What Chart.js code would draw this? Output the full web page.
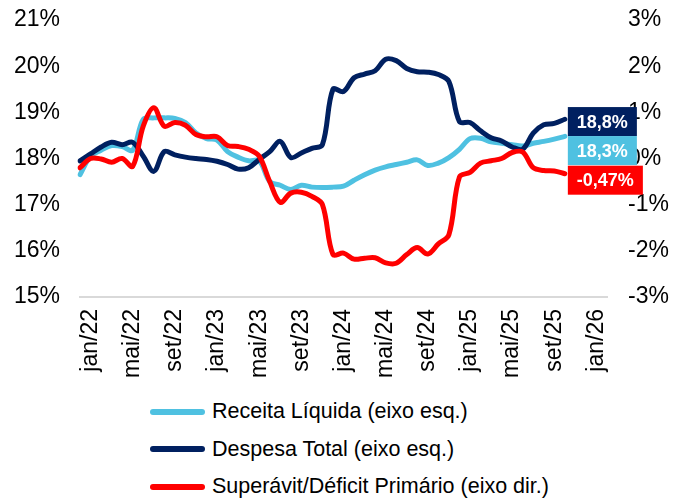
<!DOCTYPE html>
<html>
<head>
<meta charset="utf-8">
<script src="https://cdn.jsdelivr.net/npm/chart.js@4"></script>
<style>
    body { margin: 0; background: #fff; font-family: 'Liberation Sans', Arial, sans-serif; }
    #wrap { position: relative; width: 683px; height: 500px; }
    #box { position: absolute; left: 0; top: 0; width: 683px; height: 390px; }
    #legend { position: absolute; left: 150px; top: 393px; }
    .leg-row { display: flex; align-items: center; height: 37.5px; font-size: 21.5px; color: #000; }
    .leg-line { width: 55px; height: 6px; border-radius: 3px; margin-right: 7px; }
</style>
</head>
<body>
<div id="wrap">
    <div id="box"><canvas id="chart"></canvas></div>
    <div id="legend"></div>
</div>
<script>
// data

const months = [
    'dez/21',
    'jan/22', 'fev/22', 'mar/22', 'abr/22', 'mai/22', 'jun/22', 'jul/22', 'ago/22', 'set/22', 'out/22', 'nov/22', 'dez/22',
    'jan/23', 'fev/23', 'mar/23', 'abr/23', 'mai/23', 'jun/23', 'jul/23', 'ago/23', 'set/23', 'out/23', 'nov/23', 'dez/23',
    'jan/24', 'fev/24', 'mar/24', 'abr/24', 'mai/24', 'jun/24', 'jul/24', 'ago/24', 'set/24', 'out/24', 'nov/24', 'dez/24',
    'jan/25', 'fev/25', 'mar/25', 'abr/25', 'mai/25', 'jun/25', 'jul/25', 'ago/25', 'set/25', 'out/25', 'nov/25', 'dez/25',
    'jan/26', 'fev/26'
];
const shownMonths = ['jan', 'mai', 'set'];

const receita = [17.65, 18.05, 18.18, 18.28, 18.26, 18.18, 18.85, 18.88, 18.88, 18.87, 18.78, 18.55,
    18.43, 18.4, 18.15, 18.03, 17.95, 17.95, 17.5, 17.42, 17.33, 17.42, 17.38, 17.37,
    17.38, 17.4, 17.53, 17.65, 17.75, 17.82, 17.87, 17.92, 17.97, 17.85, 17.9, 18.02,
    18.2, 18.43, 18.44, 18.36, 18.33, 18.3, 18.27, 18.33, 18.37, 18.42, 18.48];
const despesa = [17.95, 18.1, 18.25, 18.35, 18.3, 18.35, 18.05, 17.72, 18.15, 18.08, 18.03, 18.0,
    17.98, 17.94, 17.87, 17.77, 17.8, 17.98, 18.15, 18.37, 18.02, 18.12, 18.22, 18.3,
    19.5, 19.45, 19.75, 19.83, 19.9, 20.15, 20.12, 19.95, 19.88, 19.87, 19.82, 19.67,
    18.8, 18.78, 18.6, 18.45, 18.38, 18.25, 18.2, 18.55, 18.73, 18.76, 18.85];
const superavit = [-0.2, 0.0, -0.01, -0.08, 0.0, -0.17, 0.7, 1.1, 0.7, 0.78, 0.72, 0.52,
    0.47, 0.47, 0.28, 0.26, 0.2, 0.05, -0.5, -0.95, -0.75, -0.73, -0.82, -1.0,
    -2.08, -2.05, -2.18, -2.16, -2.15, -2.26, -2.27, -2.08, -1.93, -2.07, -1.85, -1.65,
    -0.4, -0.3, -0.1, -0.05, 0.0, 0.13, 0.14, -0.2, -0.26, -0.27, -0.33];

const leftTicks = [15, 21];
const rightTicks = [-3, 3];

// last value labels (receita, despesa, superavit)
const endValues = [18.3, 18.8, -0.47];
const endDigits = [1, 1, 2];

const FONT = "'Liberation Sans', Arial, sans-serif";

const endLabels = {
    id: 'endLabels',
    afterDatasetsDraw(chart) {
        const c = chart.ctx;
        c.save();
        c.font = 'bold 18px ' + FONT;
        c.textAlign = 'center';
        c.textBaseline = 'middle';
        const h = 29;
        const boxes = chart.data.datasets.map((ds, i) => {
            const meta = chart.getDatasetMeta(i);
            const last = meta.data[meta.data.length - 1];
            const scale = chart.scales[ds.yAxisID];
            const text = endValues[i].toFixed(endDigits[i]).replace('.', ',') + '%';
            return { text, color: ds.borderColor, x: last.x + 3, y: scale.getPixelForValue(endValues[i]) };
        }).sort((a, b) => a.y - b.y);
        let bottom = -Infinity;
        boxes.forEach(b => {
            let top = b.y - h / 2;
            if (top < bottom) top = bottom;
            const w = c.measureText(b.text).width + 18;
            c.fillStyle = b.color;
            c.fillRect(b.x, top, w, h);
            c.fillStyle = '#fff';
            c.fillText(b.text, b.x + w / 2, top + h / 2 + 1);
            bottom = top + h;
        });
        c.restore();
    }
};

const ctx = document.getElementById('chart');

const chart = new Chart(ctx, {
    type: 'line',
    data: {
        labels: months,
        datasets: [{
            label: 'Receita Líquida (eixo esq.)',
            data: receita,
            borderColor: '#4FC1E1',
            yAxisID: 'y',
            order: 3
        }, {
            label: 'Despesa Total (eixo esq.)',
            data: despesa,
            borderColor: '#002060',
            yAxisID: 'y',
            order: 2
        }, {
            label: 'Superávit/Déficit Primário (eixo dir.)',
            data: superavit,
            borderColor: '#FF0000',
            yAxisID: 'y1',
            order: 1
        }]
    },
    options: {
        responsive: true,
        maintainAspectRatio: false,
        animation: false,
        layout: { padding: { top: 20, bottom: 0, left: 0, right: 0 } },
        elements: {
            line: { borderWidth: 5, tension: 0.35, borderCapStyle: 'round', borderJoinStyle: 'round', fill: false },
            point: { radius: 0 }
        },
        scales: {
            x: {
                offset: false,
                grid: { display: false, drawTicks: false },
                border: { display: true, color: '#d9d9d9', width: 2 },
                ticks: {
                    autoSkip: false,
                    maxRotation: 90,
                    minRotation: 90,
                    padding: 12,
                    color: '#000',
                    font: { family: FONT, size: 23 },
                    callback: function (v, i) {
                        const lab = this.getLabelForValue(v);
                        return shownMonths.includes(lab.slice(0, 3)) ? lab : '';
                    }
                },
                afterFit: (s) => { s.height = 93; }
            },
            y: {
                position: 'left',
                min: leftTicks[0],
                max: leftTicks[1],
                grid: { display: false, drawTicks: false },
                border: { display: false },
                ticks: {
                    stepSize: 1,
                    padding: 20,
                    color: '#000',
                    font: { family: FONT, size: 23 },
                    callback: (v) => v + '%'
                },
                afterFit: (s) => { s.width = 80; s.paddingTop = 0; s.paddingBottom = 0; }
            },
            y1: {
                position: 'right',
                min: rightTicks[0],
                max: rightTicks[1],
                grid: { display: false, drawTicks: false },
                border: { display: false },
                ticks: {
                    stepSize: 1,
                    padding: 21,
                    color: '#000',
                    font: { family: FONT, size: 23 },
                    callback: (v) => v + '%'
                },
                afterFit: (s) => { s.width = 76; s.paddingTop = 0; s.paddingBottom = 0; }
            }
        },
        plugins: {
            legend: { display: false },
            tooltip: { enabled: false }
        }
    },
    plugins: [endLabels]
});

// legend
const legend = document.getElementById('legend');
chart.data.datasets.forEach(ds => {
    const row = document.createElement('div');
    row.className = 'leg-row';
    const line = document.createElement('span');
    line.className = 'leg-line';
    line.style.background = ds.borderColor;
    const txt = document.createElement('span');
    txt.textContent = ds.label;
    row.appendChild(line);
    row.appendChild(txt);
    legend.appendChild(row);
});
</script>
</body>
</html>
